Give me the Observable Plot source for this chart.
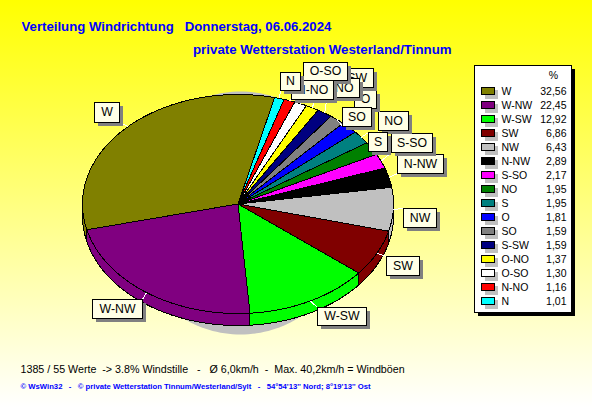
<!DOCTYPE html>
<html><head><meta charset="utf-8">
<style>html,body{margin:0;padding:0;background:#fff}svg{display:block}</style>
<script src="https://cdn.jsdelivr.net/npm/d3@7"></script>
<script src="https://cdn.jsdelivr.net/npm/@observablehq/plot@0.6"></script>
</head><body><script>
// --- chart data ---
const directions = ["W","W-NW","W-SW","SW","NW","N-NW","S-SO","NO","S","O","SO","S-SW","O-NO","O-SO","N-NO","N"];
const percents   = [32.56,22.45,12.92,6.86,6.43,2.89,2.17,1.95,1.95,1.81,1.59,1.59,1.37,1.30,1.16,1.01];
const percentLabels = ["32,56","22,45","12,92","6,86","6,43","2,89","2,17","1,95","1,95","1,81","1,59","1,59","1,37","1,30","1,16","1,01"];
const colours = ["#808000","#800080","#00ff00","#800000","#c0c0c0","#000000","#ff00ff","#008000","#008080","#0000ff","#808080","#000080","#ffff00","#ffffff","#ff0000","#00ffff"];
const titleLine1 = "Verteilung Windrichtung   Donnerstag, 06.06.2024";
const titleLine2 = "private Wetterstation Westerland/Tinnum";
const infoLine = "1385 / 55 Werte  -> 3.8% Windstille   -   Ø 6,0km/h  -  Max. 40,2km/h = Windböen";
const creditLine = "© WsWin32   -   © private Wetterstation Tinnum/Westerland/Sylt   -   54°54'13'' Nord; 8°19'13'' Ost";

// --- layout ---
const W = 592, H = 407;
const pieC = {x:237.5, y:203.5, rx:155.5, ry:109.5, depth:12, start:76.4};
const shadowC = {x:240, y:212.5, rx:115, ry:121.5};
// label boxes: [left, top, right, bottom] per direction
const labelBoxes = {
  "W":[94,102,119,122],"W-NW":[92,299,142,318],"W-SW":[317,307,366,325],"SW":[386,256,419,275],
  "NW":[403,208,436,227],"N-NW":[397,154,443,173],"S-SO":[391,133,432,152],"NO":[378,111,408,130],
  "S":[368,132,387,151],"O":[354,90,376,108],"SO":[342,107,371,126],"S-SW":[328,68,373,87],
  "O-NO":[315,78,359,97],"O-SO":[303,62,347,80],"N-NO":[291,80,333,99],"N":[280,72,300,90]
};
const rad = d => d*Math.PI/180;
const pt = (a, dz=0) => ({x: pieC.x + pieC.rx*Math.cos(rad(a)), y: pieC.y - pieC.ry*Math.sin(rad(a)) + dz});

const total = d3.sum(percents);
let acc = pieC.start;
const slices = directions.map((name,i) => {
  const a0 = acc, a1 = acc + percents[i]/total*360; acc = a1;
  return {name, a0, a1, mid:(a0+a1)/2, i};
});

const topRows = [], sideRows = [];
for (const s of slices) {
  topRows.push({name:s.name, x:pieC.x, y:pieC.y});
  for (let a=s.a0; a<s.a1; a+=0.5) topRows.push({name:s.name, ...pt(a)});
  topRows.push({name:s.name, ...pt(s.a1)});
  // the lower half of the rim is visible
  for (const [lo,hi] of [[180,360],[540,720]]) {
    const b0=Math.max(s.a0,lo), b1=Math.min(s.a1,hi);
    if (b1<=b0) continue;
    const arc=[]; for (let a=b0;a<b1;a+=0.5) arc.push(a); arc.push(b1);
    for (const a of arc) sideRows.push({name:s.name, ...pt(a)});
    for (const a of arc.slice().reverse()) sideRows.push({name:s.name, ...pt(a,pieC.depth)});
  }
}
const shadowRows = d3.range(0,360,2).map(a=>({x:shadowC.x+shadowC.rx*Math.cos(rad(a)), y:shadowC.y-shadowC.ry*Math.sin(rad(a))}));

const labels = slices.map(s => {
  const [l,t,r,b] = labelBoxes[s.name];
  const p = pt(s.mid), cx=(l+r)/2, cy=(t+b)/2;
  // leader runs from the rim to the nearest corner of the box
  const corners=[[l,t],[r,t],[l,b],[r,b]];
  const c=d3.least(corners,q=>Math.hypot(q[0]-p.x,q[1]-p.y));
  return {name:s.name, l,t,r,b, cx, cy, px:p.x, py:p.y, qx:c[0], qy:c[1]};
});
const legendTop = 91, legendStep = 14;
const legend = directions.map((name,i)=>({name, value:percentLabels[i], y:legendTop+i*legendStep}));

const sans = "'Liberation Sans',Arial,sans-serif";
const crisp = {shapeRendering:"crispEdges"};
const txt = (t,x,y,o={}) => Plot.text([t],{text:d=>d,x:()=>x,y:()=>y,fontFamily:sans,textAnchor:"start",lineAnchor:"middle",fill:"#000",...o});

document.body.append(Plot.plot({
  width:W, height:H, margin:0,
  style:{background:"linear-gradient(#ffff00,#ffffff)",overflow:"hidden"},
  x:{domain:[0,W],range:[0,W],axis:null},
  y:{domain:[0,H],range:[0,H],axis:null},
  color:{type:"ordinal",domain:directions,range:colours},
  marks:[
    txt(titleLine1,21,26,{fontSize:13.2,fontWeight:"bold",fill:"#0000ff"}),
    txt(titleLine2,192.5,49,{fontSize:13.3,fontWeight:"bold",fill:"#0000ff"}),
    Plot.line(shadowRows,{x:"x",y:"y",curve:"linear-closed",fill:"#c0c0c0",stroke:"none"}),
    Plot.line(sideRows,{x:"x",y:"y",z:"name",fill:"name",stroke:"#000",curve:"linear-closed",strokeWidth:1,...crisp}),
    Plot.line(topRows,{x:"x",y:"y",z:"name",fill:"name",stroke:"#000",curve:"linear-closed",strokeWidth:1,...crisp}),
    Plot.link(labels,{x1:"px",y1:"py",x2:"qx",y2:"qy",stroke:"#fff",strokeWidth:1,...crisp}),
    // one group per label so that later labels overlap earlier ones
    ...labels.flatMap(d=>[
      Plot.rect([d],{x1:v=>v.l+4,x2:v=>v.r+4,y1:v=>v.t+4,y2:v=>v.b+4,fill:"#808080",...crisp}),
      Plot.rect([d],{x1:"l",x2:"r",y1:"t",y2:"b",fill:"#ffffe6",stroke:"#000",...crisp}),
      Plot.text([d],{x:"cx",y:"cy",text:"name",fontFamily:sans,fontSize:12.3,fill:"#000"})
    ]),
    // legend
    Plot.rect([0],{x1:()=>478,x2:()=>575,y1:()=>69,y2:()=>316,fill:"#000",...crisp}),
    Plot.rect([0],{x1:()=>474,x2:()=>571,y1:()=>65,y2:()=>312,fill:"#ffffff",stroke:"#000",...crisp}),
    txt("%",553,75,{fontSize:10.5,textAnchor:"middle"}),
    Plot.rect(legend,{x1:()=>485,x2:()=>498,y1:d=>d.y-1,y2:d=>d.y+8,fill:"#c0c0c0",...crisp}),
    Plot.rect(legend,{x1:()=>481,x2:()=>494,y1:d=>d.y-4,y2:d=>d.y+3,fill:"name",stroke:"#000",...crisp}),
    Plot.text(legend,{x:()=>501,y:"y",text:"name",textAnchor:"start",fontFamily:sans,fontSize:10.5,fill:"#000"}),
    Plot.text(legend,{x:()=>566,y:"y",text:"value",textAnchor:"end",fontFamily:sans,fontSize:10.5,fill:"#000"}),
    txt(infoLine,20,369,{fontSize:10.7}),
    txt(creditLine,20,386,{fontSize:7.7,fontWeight:"bold",fill:"#0000ff"})
  ]
}));
</script></body></html>
